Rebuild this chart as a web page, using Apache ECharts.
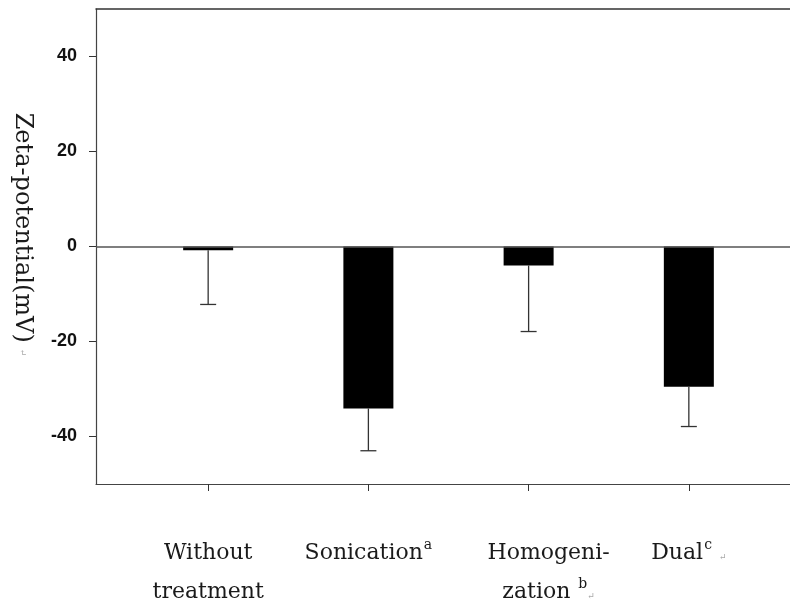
<!DOCTYPE html>
<html>
<head>
<meta charset="utf-8">
<script src="https://cdn.jsdelivr.net/npm/echarts@6/dist/echarts.min.js"></script>
<style>
  html, body { margin: 0; padding: 0; background: #fff; }
  #chart { width: 790px; height: 602px; }
</style>
</head>
<body>
<div id="chart"></div>
<script>
'use strict';

// treatments, in order along the x axis
const categories = ['Without\ntreatment', 'Sonication', 'Homogeni-\nzation', 'Dual'];
const superscripts = ['', 'a', 'b', 'c'];
// mean zeta-potential (mV) and one-sided error (downwards)
const means = [-0.8, -34.1, -4.0, -29.5];
const errors = [11.4, 8.9, 13.9, 8.4];
const yTicks = [-40, -20, 0, 20, 40];

const xPos = categories.map(function(c, i) { return i; });

function categoryLabel(value) {
  const i = Math.round(value);
  const lines = categories[i].split('\n');
  const sup = superscripts[i];
  const shift = i === 2 ? '{gap| }' : '';
  let out = lines.map(function(l, k) {
    let s = shift + '{n|' + l + '}';
    if (k === lines.length - 1 && sup) {
      s += (i === 2 ? '{n| }' : '') + '{sup|' + sup + '}';
      if (i >= 2) { s += (i === 3 ? '{n| }' : '') + '{ret|\u21b5}'; }
    }
    return s;
  });
  return out.join('\n');
}

const serif = '"DejaVu Serif", serif';

const chart = echarts.init(document.getElementById('chart'));

chart.setOption({
  animation: false,
  backgroundColor: '#fff',
  grid: { left: 96, right: -11, top: 9, bottom: 118, containLabel: false, outerBoundsMode: 'none' },
  xAxis: [
    {
      type: 'value',
      min: -0.7,
      max: 3.7,
      axisLine: { show: true, onZero: false, lineStyle: { color: '#444', width: 1.2 } },
      axisTick: { show: true, customValues: xPos, length: 7, lineStyle: { color: '#333' } },
      splitLine: { show: false },
      axisLabel: {
        customValues: xPos,
        margin: 50,
        formatter: categoryLabel,
        rich: {
          n: { fontFamily: serif, fontSize: 22, color: '#1a1a1a', lineHeight: 39 },
          sup: { fontFamily: serif, fontSize: 14, color: '#1a1a1a', lineHeight: 39, padding: [0, 0, 16, 1] },
          ret: { fontFamily: serif, fontSize: 9, color: '#aaa', lineHeight: 39, padding: [8, 0, 0, 0] },
          gap: { fontSize: 10, width: 40, lineHeight: 39 }
        }
      }
    },
    {
      type: 'value',
      position: 'top',
      min: -0.7,
      max: 3.7,
      axisLine: { show: true, onZero: false, lineStyle: { color: '#333', width: 1.5 } },
      axisTick: { show: false },
      axisLabel: { show: false },
      splitLine: { show: false }
    }
  ],
  yAxis: {
    type: 'value',
    min: -50,
    max: 50,
    name: '{n|Zeta-potential(mV)}{ret|\u21b5}',
    nameLocation: 'middle',
    nameRotate: -90,
    nameGap: 62,
    nameTextStyle: {
      rich: {
        n: { fontFamily: serif, fontSize: 24, color: '#1a1a1a' },
        ret: { fontFamily: serif, fontSize: 9, color: '#aaa', padding: [0, 24, 0, 6] }
      }
    },
    axisLine: { show: true, onZero: false, lineStyle: { color: '#444', width: 1.2 } },
    axisTick: { show: true, customValues: yTicks, length: 7, lineStyle: { color: '#333' } },
    splitLine: { show: false },
    axisLabel: {
      customValues: yTicks,
      margin: 19,
      fontFamily: '"Liberation Sans", Arial, sans-serif',
      fontSize: 18,
      fontWeight: 'bold',
      color: '#111'
    }
  },
  series: [
    {
      type: 'bar',
      data: means.map(function(m, i) { return [xPos[i], m]; }),
      barWidth: 50,
      itemStyle: { color: '#000' },
      markLine: {
        silent: true,
        symbol: ['none', 'none'],
        label: { show: false },
        lineStyle: { color: '#555', width: 1.5, type: 'solid' },
        data: [{ yAxis: 0 }]
      }
    },
    {
      type: 'custom',
      data: means.map(function(m, i) { return [xPos[i], m, m - errors[i]]; }),
      encode: { x: 0, y: [1, 2] },
      renderItem: function(params, api) {
        const x = api.value(0);
        const top = api.coord([x, api.value(1)]);
        const bot = api.coord([x, api.value(2)]);
        const style = { stroke: '#333', lineWidth: 1.3 };
        return {
          type: 'group',
          children: [
            { type: 'line', shape: { x1: top[0], y1: top[1], x2: bot[0], y2: bot[1] }, style: style },
            { type: 'line', shape: { x1: bot[0] - 8, y1: bot[1], x2: bot[0] + 8, y2: bot[1] }, style: style }
          ]
        };
      },
      z: 3
    }
  ]
});
</script>
</body>
</html>
